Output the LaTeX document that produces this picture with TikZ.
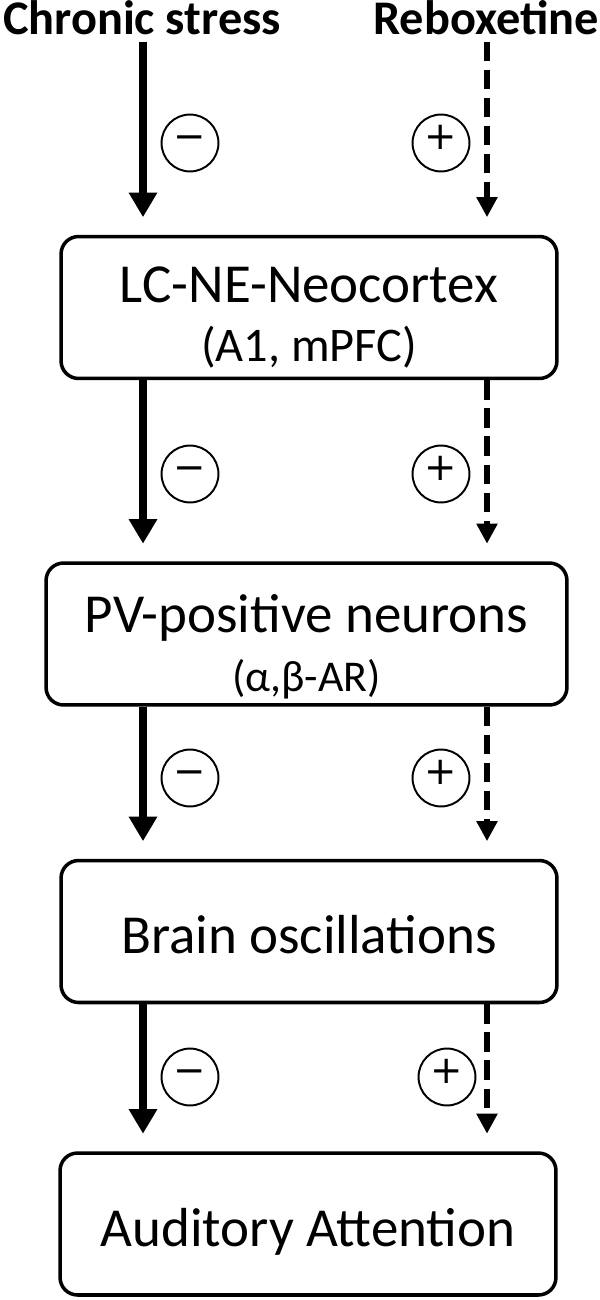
\documentclass[tikz,border=0pt]{standalone}
\usepackage{fontspec}
\setmainfont{Carlito}
\newfontfamily\signfont{DejaVu Sans}
\usetikzlibrary{positioning,arrows.meta}

\begin{document}
\begin{tikzpicture}[x=0.02cm,y=-0.02cm,
  box/.style={draw,rounded corners=10pt,line width=2pt,minimum width=9.92cm,minimum height=2.84cm,align=center,text height=25.5pt,text depth=0pt,font=\fontsize{31.3}{34}\selectfont},
  twoline/.style={text height=62pt,text depth=0pt},
  head/.style={font=\bfseries\fontsize{27.5}{30}\selectfont},
  sign/.style={circle,draw,line width=1.1pt,minimum size=32.4pt,inner sep=0pt,text height=0.7em,text depth=0pt,font=\signfont\fontsize{22}{22}\selectfont},
  negarr/.style={line width=4.4pt,-{Triangle[width=15.4pt,length=14pt]},shorten >=10pt},
  posarr/.style={line width=3.6pt,dash pattern=on 11pt off 5pt,-{Triangle[width=11.4pt,length=11.4pt]},shorten >=10pt}]
  \useasboundingbox (0,0) rectangle (599,1300);

  \node[head,anchor=base] (stress) at (142,35) {Chronic stress};
  \node[head,anchor=base] (reb) at (486,35) {Reboxetine};

  \node[box,twoline] (lc) at (309,307.5) {LC-NE-Neocortex\\{\fontsize{27.5}{34}\selectfont (A1, mPFC)}};
  \node[box,twoline,text height=66pt,minimum width=10.42cm] (pv) at (306.5,634) {PV-positive neurons\\{\fontsize{25}{34}\selectfont (α,β-AR)}};
  \node[box] (osc) at (309,931.5) {Brain oscillations};
  \node[box] (att) at (308,1224) {Auditory Attention};

  \node[sign] (m1) at (190,143) {−};
  \node[sign] (p1) at (441,143) {+};
  \node[sign] (m2) at (190,474) {−};
  \node[sign] (p2) at (441,474) {+};
  \node[sign] (m3) at (190,778) {−};
  \node[sign] (p3) at (441,778) {+};
  \node[sign] (m4) at (190,1077) {−};
  \node[sign] (p4) at (447,1077) {+};

  \draw [negarr] (stress.south -| 143,0) -- (lc.north -| 143,0);
  \draw [posarr] (reb.south -| 487,0) -- (lc.north -| 487,0);
  \draw [negarr] (lc.south -| 143,0) -- (pv.north -| 143,0);
  \draw [posarr] (lc.south -| 487,0) -- (pv.north -| 487,0);
  \draw [negarr] (pv.south -| 143,0) -- (osc.north -| 143,0);
  \draw [posarr] (pv.south -| 487,0) -- (osc.north -| 487,0);
  \draw [negarr] (osc.south -| 143,0) -- (att.north -| 143,0);
  \draw [posarr] (osc.south -| 487,0) -- (att.north -| 487,0);
\end{tikzpicture}
\end{document}
